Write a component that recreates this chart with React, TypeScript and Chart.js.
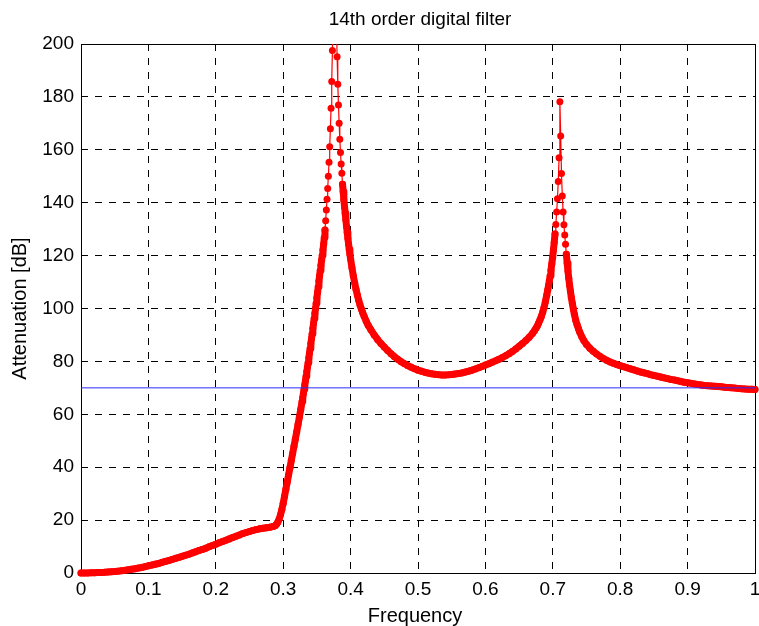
import React, { useEffect, useRef } from "react";
import { Chart, registerables } from "chart.js";

Chart.register(...registerables);

const chartTitle = "14th order digital filter";
const xAxisTitle = "Frequency";
const yAxisTitle = "Attenuation [dB]";

// normalized frequency samples
const freq: number[] = [
  0.000, 0.005, 0.010, 0.015, 0.020, 0.025, 0.030, 0.035, 0.040, 0.045,
  0.050, 0.055, 0.060, 0.065, 0.070, 0.075, 0.080, 0.085, 0.090, 0.095,
  0.100, 0.105, 0.110, 0.115, 0.120, 0.125, 0.130, 0.135, 0.140, 0.145,
  0.150, 0.155, 0.160, 0.165, 0.170, 0.175, 0.180, 0.185, 0.190, 0.195,
  0.200, 0.205, 0.210, 0.215, 0.220, 0.225, 0.230, 0.235, 0.240, 0.245,
  0.250, 0.255, 0.260, 0.265, 0.270, 0.275, 0.280, 0.285,
  0.288, 0.290, 0.292, 0.294, 0.296, 0.298, 0.300, 0.302, 0.304, 0.306,
  0.308, 0.310, 0.312, 0.314, 0.316, 0.318, 0.320, 0.322, 0.324, 0.326,
  0.328, 0.329, 0.330, 0.331, 0.332, 0.333, 0.334, 0.335, 0.336, 0.337,
  0.338, 0.339, 0.340, 0.341, 0.342, 0.343, 0.344, 0.345, 0.346, 0.347,
  0.348, 0.349, 0.350, 0.351, 0.352, 0.353, 0.354, 0.355, 0.356, 0.357,
  0.358, 0.359, 0.360, 0.361, 0.362, 0.363, 0.364, 0.365, 0.366, 0.367,
  0.368, 0.369, 0.370, 0.371, 0.372, 0.373, 0.374, 0.375, 0.376, 0.377,
  0.378, 0.379, 0.380, 0.381, 0.382, 0.383, 0.384, 0.385, 0.386, 0.387,
  0.388, 0.389, 0.390, 0.391, 0.392, 0.393, 0.394, 0.395, 0.396, 0.397,
  0.398, 0.399, 0.400, 0.402, 0.404, 0.406, 0.408, 0.410, 0.412, 0.414,
  0.416, 0.418, 0.420, 0.423, 0.426, 0.430, 0.435, 0.440, 0.445, 0.450,
  0.455, 0.460, 0.465, 0.470, 0.475, 0.480, 0.485, 0.490, 0.495, 0.500,
  0.505, 0.510, 0.515, 0.520, 0.525, 0.530, 0.535, 0.540, 0.545, 0.550,
  0.555, 0.560, 0.565, 0.570, 0.575, 0.580, 0.585, 0.590, 0.595, 0.600,
  0.605, 0.610, 0.615, 0.620, 0.625, 0.630, 0.635, 0.640, 0.645, 0.650,
  0.655, 0.660, 0.665, 0.670, 0.673, 0.675, 0.677, 0.679, 0.681, 0.683,
  0.685, 0.687, 0.689, 0.691, 0.6925, 0.6937, 0.6949, 0.6961, 0.6973, 0.6985,
  0.6997, 0.7009, 0.7021, 0.7033, 0.7045, 0.7057, 0.7069, 0.7081, 0.7093, 0.7105,
  0.7117, 0.7129, 0.7141, 0.7153, 0.7165, 0.7177, 0.7189, 0.7201, 0.7213, 0.7225,
  0.7237, 0.7249, 0.7261, 0.7275, 0.729, 0.7305, 0.732, 0.734, 0.736, 0.738,
  0.740, 0.743, 0.746, 0.750, 0.755, 0.760, 0.765, 0.770, 0.775, 0.780,
  0.785, 0.790, 0.795, 0.800, 0.805, 0.810, 0.815, 0.820, 0.825, 0.830,
  0.835, 0.840, 0.845, 0.850, 0.855, 0.860, 0.865, 0.870, 0.875, 0.880,
  0.885, 0.890, 0.895, 0.900, 0.905, 0.910, 0.915, 0.920, 0.925, 0.930,
  0.935, 0.940, 0.945, 0.950, 0.955, 0.960, 0.965, 0.970, 0.975, 0.980,
  0.985, 0.990, 0.995, 1.000,
];

// attenuation in dB (values above 200 fall outside the axes)
const atten: number[] = [
  0.0, 0.0, 0.02, 0.05, 0.1, 0.15, 0.2, 0.25, 0.35, 0.45,
  0.55, 0.7, 0.85, 1.0, 1.2, 1.4, 1.6, 1.85, 2.1, 2.4,
  2.7, 3.0, 3.3, 3.6, 4.0, 4.35, 4.7, 5.1, 5.5, 5.9,
  6.3, 6.7, 7.1, 7.6, 8.0, 8.5, 8.9, 9.4, 9.9, 10.4,
  10.9, 11.4, 11.9, 12.4, 12.9, 13.4, 13.9, 14.4, 14.9, 15.3,
  15.7, 16.1, 16.4, 16.7, 16.9, 17.1, 17.3, 17.6,
  17.9, 18.4, 19.2, 20.4, 22.0, 24.0, 26.4, 29.0, 31.7, 34.4,
  37.1, 39.8, 42.5, 45.2, 47.9, 50.6, 53.3, 56.1, 58.9, 61.8,
  64.8, 66.3, 67.9, 69.5, 71.1, 72.7, 74.4, 76.1, 77.8, 79.5,
  81.3, 83.1, 84.9, 86.7, 88.6, 90.5, 92.4, 94.3, 96.2, 98.1,
  100.0, 102.0, 104.0, 106.1, 108.2, 110.3, 112.4, 114.4, 116.3, 118.2,
  120.1, 122.1, 124.3, 126.8, 129.7, 133.2, 137.2, 141.3, 145.4, 150.0,
  155.3, 161.2, 168.0, 175.7, 185.8, 197.5, 212.0, 232.0, 265.0, 250.0,
  226.0, 208.0, 195.2, 184.8, 176.9, 170.0, 164.0, 159.0, 154.6, 151.1,
  147.0, 144.2, 141.0, 138.5, 136.0, 133.5, 131.0, 128.7, 126.5, 124.4,
  122.4, 120.5, 118.7, 115.4, 112.4, 109.7, 107.3, 105.1, 103.1, 101.3,
  99.8, 98.4, 97.1, 95.3, 93.7, 92.0, 90.0, 88.3, 86.8, 85.4,
  84.1, 82.9, 81.8, 80.8, 79.9, 79.1, 78.4, 77.8, 77.2, 76.7,
  76.3, 75.9, 75.6, 75.3, 75.1, 75.0, 74.9, 74.9, 74.95, 75.05,
  75.2, 75.4, 75.65, 75.95, 76.3, 76.7, 77.15, 77.6, 78.1, 78.6,
  79.1, 79.65, 80.2, 80.8, 81.45, 82.15, 82.9, 83.75, 84.7, 85.7,
  86.75, 87.9, 89.15, 90.6, 91.7, 92.5, 93.4, 94.5, 95.7, 97.0,
  98.6, 100.4, 102.6, 105.0, 107.0, 108.7, 110.5, 112.4, 114.5, 116.8,
  119.3, 122.1, 125.0, 128.2, 131.8, 136.5, 141.5, 148.0, 157.0, 178.2,
  165.2, 151.0, 142.5, 136.5, 131.7, 127.8, 124.3, 120.5, 117.2, 114.2,
  111.4, 108.9, 106.6, 104.2, 101.9, 99.8, 97.8, 95.6, 93.9, 92.4,
  91.0, 89.3, 87.9, 86.4, 85.0, 83.8, 82.8, 81.9, 81.1, 80.4,
  79.8, 79.3, 78.8, 78.4, 78.0, 77.6, 77.2, 76.8, 76.4, 76.0,
  75.7, 75.4, 75.0, 74.7, 74.4, 74.1, 73.8, 73.5, 73.2, 73.0,
  72.7, 72.4, 72.1, 71.9, 71.7, 71.5, 71.3, 71.1, 70.9, 70.8,
  70.7, 70.6, 70.5, 70.4, 70.2, 70.1, 70.0, 69.9, 69.8, 69.7,
  69.6, 69.5, 69.45, 69.4,
];

// required attenuation limit line
const limitFreq: number[] = [0, 1];
const limitAtten: number[] = [70, 70];

const xTicks: number[] = [0, 0.1, 0.2, 0.3, 0.4, 0.5, 0.6, 0.7, 0.8, 0.9, 1];
const yTicks: number[] = [0, 20, 40, 60, 80, 100, 120, 140, 160, 180, 200];

const FONT = "'Liberation Sans', Arial, Helvetica, sans-serif";
const MARKER_R = 3.5;

const framePlugin = {
  id: "matlabFrame",
  beforeDatasetsDraw(chart: any) {
    const { ctx, chartArea } = chart;
    ctx.save();
    ctx.strokeStyle = "#000";
    ctx.lineWidth = 1;
    ctx.setLineDash([]);
    const l = Math.round(chartArea.left) + 0.5;
    const t = Math.round(chartArea.top) + 0.5;
    const r = Math.round(chartArea.right) + 0.5;
    const b = Math.round(chartArea.bottom) + 0.5;
    ctx.strokeRect(l, t, r - l, b - t);
    ctx.restore();
  },
  afterDraw(chart: any) {
    const { ctx, chartArea } = chart;
    const cx = (chartArea.left + chartArea.right) / 2;
    const cy = (chartArea.top + chartArea.bottom) / 2;
    ctx.save();
    ctx.fillStyle = "#000";
    ctx.textAlign = "center";
    ctx.textBaseline = "middle";
    ctx.font = `19px ${FONT}`;
    ctx.fillText(chartTitle, cx + 2, 20);
    ctx.font = `20px ${FONT}`;
    ctx.fillText(xAxisTitle, cx - 3, 616);
    ctx.translate(20, cy);
    ctx.rotate(-Math.PI / 2);
    ctx.fillText(yAxisTitle, 0, 0);
    ctx.restore();
  },
};

export default function App() {
  const ref = useRef<HTMLCanvasElement | null>(null);

  useEffect(() => {
    document.body.style.margin = "0";
    const canvas = ref.current;
    if (!canvas) return;
    const curve = freq.map((x, i) => ({ x, y: atten[i] }));
    const limit = limitFreq.map((x, i) => ({ x, y: limitAtten[i] }));
    // where neighbouring markers overlap on screen they merge into a solid band
    const segWidth = (c: any) => {
      const dx = c.p1.x - c.p0.x;
      const dy = c.p1.y - c.p0.y;
      return Math.hypot(dx, dy) <= 9.1 ? MARKER_R * 2 : 1.2;
    };
    const chart = new Chart(canvas, {
      type: "scatter",
      data: {
        datasets: [
          {
            label: "limit",
            data: limit,
            showLine: true,
            borderColor: "#2b2bff",
            borderWidth: 1,
            pointRadius: 0,
            order: 0,
          },
          {
            label: "attenuation",
            data: curve,
            showLine: true,
            borderColor: "#ff0000",
            borderWidth: 1.2,
            borderCapStyle: "round",
            borderJoinStyle: "round",
            pointRadius: MARKER_R,
            pointBackgroundColor: "#ff0000",
            pointBorderWidth: 0,
            pointHoverRadius: MARKER_R,
            order: 1,
            clip: { left: 10, right: 10, top: 0, bottom: 10 },
            segment: { borderWidth: segWidth },
          } as any,
        ],
      },
      options: {
        animation: false,
        responsive: false,
        maintainAspectRatio: false,
        events: [],
        layout: { padding: { top: 44, right: 4, left: 0, bottom: 0 } },
        plugins: {
          legend: { display: false },
          tooltip: { enabled: false },
          title: { display: false },
        },
        scales: {
          x: {
            type: "linear",
            min: 0,
            max: 1,
            afterBuildTicks: (s: any) => {
              s.ticks = xTicks.map((v) => ({ value: v }));
            },
            afterFit: (s: any) => {
              s.height = 53;
              s.paddingLeft = 0;
              s.paddingRight = 0;
            },
            ticks: {
              autoSkip: false,
              maxRotation: 0,
              padding: 5,
              color: "#000",
              font: { family: FONT, size: 19 },
              callback: (v: any) => String(Math.round(Number(v) * 10) / 10),
            },
            grid: { color: "#000", lineWidth: 1, drawTicks: false },
            border: { display: false, dash: [7, 7] },
          },
          y: {
            type: "linear",
            min: 0,
            max: 200,
            afterBuildTicks: (s: any) => {
              s.ticks = yTicks.map((v) => ({ value: v }));
            },
            afterFit: (s: any) => {
              s.width = 81;
            },
            ticks: {
              autoSkip: false,
              padding: 7,
              color: "#000",
              font: { family: FONT, size: 19 },
              callback: (v: any) => String(v),
            },
            grid: { color: "#000", lineWidth: 1, drawTicks: false },
            border: { display: false, dash: [7, 7] },
          },
        },
      } as any,
      plugins: [framePlugin],
    });
    return () => chart.destroy();
  }, []);

  return (
    <div style={{ width: 759, height: 626, background: "#fff" }}>
      <canvas ref={ref} width={759} height={626} style={{ display: "block" }} />
    </div>
  );
}
